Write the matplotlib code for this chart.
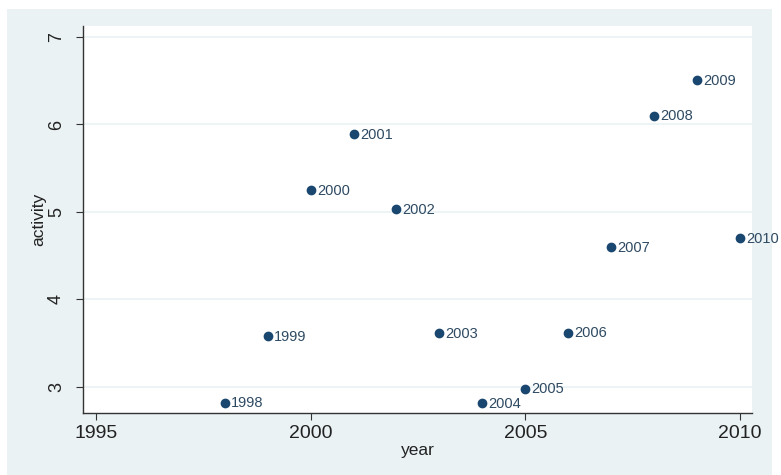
import matplotlib.pyplot as plt
from matplotlib.patches import Rectangle

plt.rcParams['font.family'] = ['Liberation Sans', 'DejaVu Sans']

# data
years = [1998, 1999, 2000, 2001, 2002, 2003, 2004, 2005, 2006, 2007, 2008, 2009, 2010]
activity = [2.82, 3.58, 5.25, 5.89, 5.03, 3.61, 2.81, 2.98, 3.62, 4.60, 6.10, 6.51, 4.70]
labels = [str(y) for y in years]
x_ticks = [1995, 2000, 2005, 2010]
y_ticks = [3, 4, 5, 6, 7]

W, H = 781, 475
fig = plt.figure(figsize=(W / 100, H / 100), dpi=100)
fig.patch.set_facecolor('white')

# Stata-style outer background, kept behind the axes
fig.patches.append(Rectangle((7 / W, 0), (772 - 7) / W, (H - 9) / H,
                             transform=fig.transFigure, facecolor='#eaf2f3',
                             edgecolor='none', zorder=-10))

left, right, top, bottom = 83, 752, 26, 413
ax = fig.add_axes([left / W, 1 - bottom / H, (right - left) / W, (bottom - top) / H])
ax.set_facecolor('white')

navy = '#1a476f'
ax.scatter(years, activity, s=36, color=navy, zorder=3)
for x, y, t in zip(years, activity, labels):
    ax.annotate(t, (x, y), xytext=(4.5, -0.5), textcoords='offset points',
                va='center', ha='left', fontsize=10.5, color='#2e4a62',
                annotation_clip=False)

ax.set_xlim(1994.7, 2010.28)
ax.set_ylim(2.70, 7.126)
ax.set_xticks(x_ticks)
ax.set_yticks(y_ticks)
ax.grid(axis='y', color='#eaf2f3', linewidth=1.2, zorder=0)
ax.set_axisbelow(True)

for s in ['top', 'right']:
    ax.spines[s].set_visible(False)
for s in ['left', 'bottom']:
    ax.spines[s].set_color('#333333')
    ax.spines[s].set_linewidth(1.0)

ax.tick_params(axis='both', direction='out', length=5, color='#333333',
               labelsize=14, labelcolor='#222222')
ax.tick_params(axis='y', pad=8, labelsize=13)
plt.setp(ax.get_yticklabels(), rotation=90, va='center')

ax.set_xlabel('year', fontsize=12.5, color='#222222', labelpad=1)
ax.set_ylabel('activity', fontsize=12.5, color='#222222', labelpad=1)

fig.savefig('out.png', dpi=100)
